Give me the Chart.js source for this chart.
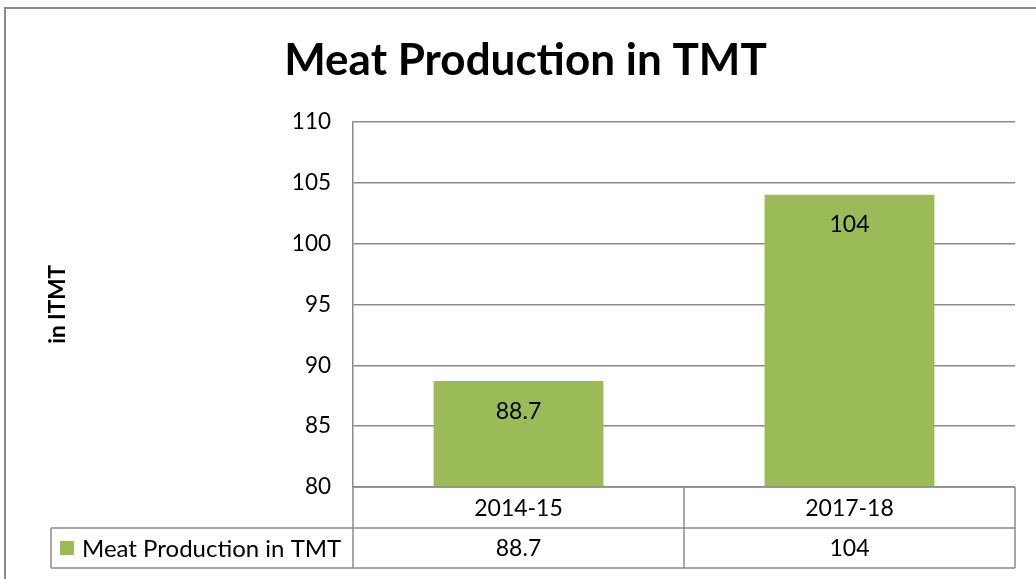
<!DOCTYPE html>
<html>
<head>
<meta charset="utf-8">
<script src="https://cdn.jsdelivr.net/npm/chart.js@4.4.0/dist/chart.umd.min.js"></script>
<style>
  html, body { margin: 0; padding: 0; background: #fff; }
  #wrap { width: 1036px; height: 579px; }
</style>
</head>
<body>
<div id="wrap"><canvas id="myChart" width="1036" height="579"></canvas></div>
<script>
// chart data
const categories = ['2014-15', '2017-18'];
const meatValues = [88.7, 104];
const seriesName = 'Meat Production in TMT';
const yMin = 80, yMax = 110, yStep = 5;

const barColor = '#9bbb59';
const lineColor = '#8a8a8a';
const fontFam = 'Lato, "Open Sans", sans-serif';

// outer frame + data table under the plot
const tablePlugin = {
  id: 'tablePlugin',
  beforeDraw(chart) {
    const c = chart.ctx;
    c.save();
    c.fillStyle = '#fff';
    c.fillRect(0, 0, chart.width, chart.height);
    c.strokeStyle = lineColor;
    c.lineWidth = 2;
    c.strokeRect(5, 8, chart.width + 20, chart.height + 20);
    c.restore();
  },
  afterDraw(chart) {
    const c = chart.ctx;
    const a = chart.chartArea;
    const xs = chart.scales.x;
    const rowH = 41;
    const r1 = a.bottom, r2 = a.bottom + rowH, r3 = a.bottom + rowH * 2 - 1;
    const legLeft = 51;
    c.save();
    c.strokeStyle = lineColor;
    c.lineWidth = 1.5;
    c.beginPath();
    // horizontal lines
    c.moveTo(a.left, r1); c.lineTo(a.right, r1);
    c.moveTo(legLeft, r2); c.lineTo(a.right, r2);
    c.moveTo(legLeft, r3); c.lineTo(a.right, r3);
    // vertical lines
    c.moveTo(legLeft, r2); c.lineTo(legLeft, r3);
    c.moveTo(a.left, r1); c.lineTo(a.left, r3);
    for (let i = 1; i < categories.length; i++) {
      const x = (xs.getPixelForValue(i - 1) + xs.getPixelForValue(i)) / 2;
      c.moveTo(x, r1); c.lineTo(x, r3);
    }
    c.moveTo(a.right, r1); c.lineTo(a.right, r3);
    c.stroke();

    c.fillStyle = '#000';
    c.font = '23px ' + fontFam;
    c.textAlign = 'center';
    c.textBaseline = 'middle';
    categories.forEach((cat, i) => {
      const x = xs.getPixelForValue(i);
      c.fillText(cat, x, (r1 + r2) / 2 + 1);
      c.fillText(String(meatValues[i]), x, (r2 + r3) / 2 + 1);
    });
    // legend key
    c.fillStyle = barColor;
    c.fillRect(60, (r2 + r3) / 2 - 7, 14, 14);
    c.fillStyle = '#000';
    c.textAlign = 'left';
    c.font = '24px ' + fontFam;
    c.fillText(seriesName, 82, (r2 + r3) / 2 + 1);

    // value labels inside bars
    const meta = chart.getDatasetMeta(0);
    c.textAlign = 'center';
    c.font = '23px ' + fontFam;
    meta.data.forEach((bar, i) => {
      c.fillText(String(meatValues[i]), bar.x, bar.y + 30);
    });
    c.restore();
  }
};

let ctx = document.getElementById('myChart').getContext('2d');
let myChart = new Chart(ctx, {
  type: 'bar',
  data: {
    labels: categories,
    datasets: [{
      label: seriesName,
      data: meatValues,
      backgroundColor: barColor,
      borderWidth: 0,
      barPercentage: 0.513,
      categoryPercentage: 1
    }]
  },
  options: {
    responsive: false,
    animation: false,
    layout: { padding: { left: 36, right: 21, top: 0, bottom: 92 } },
    plugins: {
      legend: { display: false },
      tooltip: { enabled: false },
      title: {
        display: true,
        text: 'Meat Production in TMT',
        color: '#000',
        font: { family: fontFam, size: 44, weight: 'bold', lineHeight: 1.2 },
        padding: { top: 34, bottom: 35 }
      }
    },
    scales: {
      x: {
        display: false,
        grid: { display: false }
      },
      y: {
        min: yMin,
        max: yMax,
        ticks: {
          stepSize: yStep,
          color: '#000',
          padding: 22,
          font: { family: fontFam, size: 22.5 }
        },
        grid: { color: lineColor, lineWidth: 1.5, drawTicks: false },
        border: { display: true, color: lineColor, width: 1.5 },
        title: {
          display: true,
          text: 'in ITMT',
          color: '#000',
          font: { family: fontFam, size: 22.5, weight: 'bold', lineHeight: 1.2 },
          padding: { top: 8, bottom: 0 }
        },
        afterFit(scale) { scale.width = 317; }
      }
    }
  },
  plugins: [tablePlugin]
});
</script>
</body>
</html>
